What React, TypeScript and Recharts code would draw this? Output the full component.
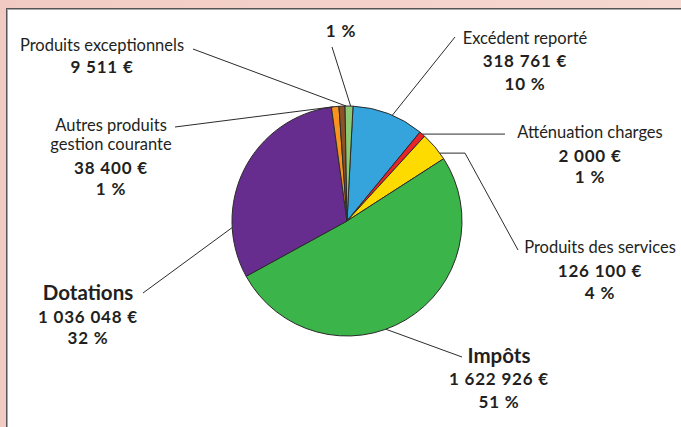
import { PieChart, Pie, Cell } from "recharts";

// slices clockwise from the top
const categories = [
  "Excédent reporté",
  "Atténuation charges",
  "Produits des services",
  "Impôts",
  "Dotations",
  "Autres produits\ngestion courante",
  "Produits exceptionnels",
  "",
];
const amounts = ["318 761 €", "2 000 €", "126 100 €", "1 622 926 €", "1 036 048 €", "38 400 €", "9 511 €", ""];
const percents = ["10 %", "1 %", "4 %", "51 %", "32 %", "1 %", "", "1 %"];
// share of the disc as drawn (%)
const shares = [10.1, 0.85, 4.1, 51.1, 30.8, 1.05, 0.85, 1.1];

const COLORS = ["#35a3dc", "#e8232a", "#fddb00", "#3bb44a", "#662d8f", "#f7931e", "#8b5227", "#8cc974"];

const data = categories.map((name, i) => ({ name, value: shares[i] }));

// label placement (page px); shift = degrees clockwise from the slice middle where the leader starts
const labelLayout = [
  { x: 525, ys: [44, 67, 90], shift: 2, path: [[455, 37]] },
  { x: 590, ys: [138, 162, 183], shift: 0, path: [[505, null]] },
  { x: 600, ys: [253, 277, 299], shift: 4, path: [[465, null], [518, 250]] },
  { x: 499, ys: [363, 385, 408], shift: 11, path: [[462, 357]], big: true },
  { x: 88, ys: [300, 323, 344], shift: -30, path: [[143, 293]], big: true },
  { x: 111, ys: [131, 150, 174, 195], shift: -1, path: [[175, 127]] },
  { x: 102, ys: [51, 73], shift: 2, path: [[193, 49]] },
  { x: 341, ys: [37], shift: 0.8, path: [[332, 47]] },
];

const RAD = Math.PI / 180;
const FONT = "Lato, 'Open Sans', sans-serif";
const INK = "#231f20";

function renderLabel(props: any) {
  const { cx, cy, midAngle, outerRadius, index } = props;
  const lay = labelLayout[index];
  const a = (midAngle - lay.shift) * RAD;
  const sx = cx + outerRadius * Math.cos(a);
  const sy = cy - outerRadius * Math.sin(a);
  const pts: number[][] = [[sx, sy]];
  lay.path.forEach(([px, py]) => {
    const prev = pts[pts.length - 1];
    pts.push([px as number, py == null ? prev[1] : (py as number)]);
  });

  const rows: { t: string; bold: boolean; size: number; ls: number }[] = [];
  categories[index]
    .split("\n")
    .filter((s) => s)
    .forEach((s) => rows.push({ t: s, bold: !!lay.big, size: lay.big ? 20.5 : 16.5, ls: 0 }));
  if (amounts[index]) rows.push({ t: amounts[index], bold: true, size: 17, ls: 0.8 });
  if (percents[index]) rows.push({ t: percents[index], bold: true, size: 17, ls: 0.8 });

  return (
    <g key={`lbl-${index}`}>
      <polyline
        points={pts.map((p) => p.join(",")).join(" ")}
        fill="none"
        stroke="#2b2b2b"
        strokeWidth={1}
      />
      {rows.map((r, k) => (
        <text
          key={k}
          x={lay.x}
          y={lay.ys[k]}
          textAnchor="middle"
          fontFamily={FONT}
          fontSize={r.size}
          fontWeight={r.bold ? 700 : 400}
          letterSpacing={r.ls}
          fill={INK}
        >
          {r.t}
        </text>
      ))}
    </g>
  );
}

export default function App() {
  return (
    <div
      style={{
        position: "fixed",
        left: 0,
        top: 0,
        width: 681,
        height: 427,
        overflow: "hidden",
        background: "linear-gradient(90deg, #f1cbc3, #f6d8d1)",
      }}
    >
      <div
        style={{
          position: "absolute",
          left: 6,
          top: 8,
          width: 700,
          height: 440,
          background: "#fff",
          borderLeft: "1px solid #555",
          borderTop: "1px solid #555",
          boxShadow: "inset 1px 1px 0 #a8a8a8",
        }}
      />
      <div style={{ position: "absolute", left: 0, top: 0 }}>
        <PieChart width={681} height={427} margin={{ top: 0, right: 0, bottom: 0, left: 0 }}>
          <Pie
            data={data}
            dataKey="value"
            cx={347}
            cy={221}
            outerRadius={115}
            startAngle={87}
            endAngle={-273}
            stroke="#2b2b2b"
            strokeWidth={1}
            label={renderLabel}
            labelLine={false}
            isAnimationActive={false}
          >
            {data.map((_, i) => (
              <Cell key={i} fill={COLORS[i]} />
            ))}
          </Pie>
        </PieChart>
      </div>
    </div>
  );
}
